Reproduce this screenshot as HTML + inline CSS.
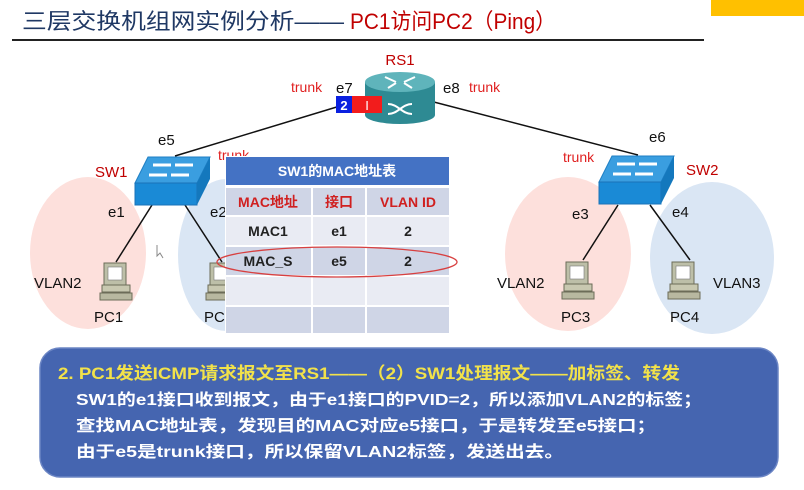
<!DOCTYPE html>
<html><head><meta charset="utf-8"><style>
html,body{margin:0;padding:0;background:#fff;}
svg{display:block;}
text{font-family:"Liberation Sans","Noto Sans CJK SC",sans-serif;}
.cj{font-family:"Liberation Sans","WenQuanYi Zen Hei","Noto Sans CJK SC",sans-serif;}
</style></head><body>
<svg width="804" height="490" viewBox="0 0 804 490" xmlns="http://www.w3.org/2000/svg">
<defs>
<g id="pc">
  <rect x="4" y="0" width="22" height="22" fill="#bdbfa8" stroke="#6c6c58" stroke-width="1"/>
  <rect x="8" y="4" width="14" height="13" fill="#fff" stroke="#777" stroke-width="0.6"/>
  <rect x="2" y="22" width="28" height="7" fill="#c8c8b0" stroke="#6c6c58" stroke-width="1"/>
  <rect x="0" y="30" width="32" height="7" fill="#b8b8a0" stroke="#6c6c58" stroke-width="1"/>
</g>
<g id="sw">
  <polygon points="13,0 75,0 62,26 0,26" fill="#3a9ee0" stroke="#1f7fc4"/>
  <polygon points="0,26 62,26 62,48 0,48" fill="#1a8ad6" stroke="#1a73b8"/>
  <polygon points="62,26 75,0 75,22 62,48" fill="#1478bd"/>
  <g stroke="#fff" stroke-width="3" fill="none">
    <line x1="18" y1="8" x2="36" y2="8"/><line x1="40" y1="8" x2="58" y2="8"/>
    <line x1="14" y1="18" x2="32" y2="18"/><line x1="36" y1="18" x2="54" y2="18"/>
  </g>
</g>
</defs>
<rect x="711" y="0" width="93" height="16" fill="#ffc000"/>
<text x="22" y="29" font-size="22" fill="#1f3864" class="cj" textLength="322" lengthAdjust="spacingAndGlyphs">三层交换机组网实例分析——</text>
<text x="350" y="29" font-size="22" fill="#c00000" class="cj" textLength="206" lengthAdjust="spacingAndGlyphs">PC1访问PC2（Ping）</text>
<line x1="12" y1="40" x2="704" y2="40" stroke="#222" stroke-width="2"/>

<ellipse cx="88" cy="253" rx="58" ry="76" fill="#fde0dc"/>
<ellipse cx="226" cy="255" rx="48" ry="76" fill="#dae6f4"/>
<ellipse cx="568" cy="254" rx="63" ry="77" fill="#fde0dc"/>
<ellipse cx="712" cy="258" rx="62" ry="76" fill="#dae6f4"/>

<g stroke="#111" stroke-width="1.5">
<line x1="340" y1="106" x2="175" y2="156"/>
<line x1="430" y1="101" x2="638" y2="155"/>
<line x1="152" y1="205" x2="116" y2="262"/>
<line x1="185" y1="205" x2="222" y2="262"/>
<line x1="618" y1="205" x2="583" y2="260"/>
<line x1="650" y1="205" x2="690" y2="260"/>
</g>

<path d="M365,82 L365,115 A35,9 0 0 0 435,115 L435,82 Z" fill="#2e8a93"/>
<ellipse cx="400" cy="82" rx="35" ry="10" fill="#5fb4bb"/>
<g stroke="#fff" stroke-width="2" fill="none">
<path d="M385,77 L396,82 M415,77 L404,82 M388,88 L396,83 M412,88 L404,83"/>
<path d="M388,104 C398,104 402,114 412,114 M388,114 C398,114 402,104 412,104"/>
</g>
<rect x="336" y="96" width="16" height="17" fill="#0a20e0"/>
<rect x="352" y="96" width="30" height="17" fill="#f21c1c"/>
<text x="344" y="110" font-size="13" fill="#fff" text-anchor="middle" font-weight="bold">2</text>
<text x="367" y="110" font-size="13" fill="#fff" text-anchor="middle">I</text>
<text x="400" y="65" font-size="15" fill="#c00000" text-anchor="middle">RS1</text>
<text x="291" y="92" font-size="14" fill="#e02020">trunk</text>
<text x="336" y="93" font-size="15" fill="#111">e7</text>
<text x="443" y="93" font-size="15" fill="#111">e8</text>
<text x="469" y="92" font-size="14" fill="#e02020">trunk</text>

<use href="#sw" x="135" y="157"/>
<use href="#sw" x="599" y="156"/>

<text x="158" y="145" font-size="15" fill="#111">e5</text>
<text x="95" y="177" font-size="15" fill="#c00000">SW1</text>
<text x="218" y="160" font-size="14" fill="#e02020">trunk</text>
<text x="108" y="217" font-size="15" fill="#111">e1</text>
<text x="210" y="217" font-size="15" fill="#111">e2</text>
<use href="#pc" x="100" y="263"/>
<use href="#pc" x="206" y="263"/>
<text x="34" y="288" font-size="15" fill="#111">VLAN2</text>
<text x="94" y="322" font-size="15" fill="#111">PC1</text>
<text x="204" y="322" font-size="15" fill="#111">PC2</text>

<text x="649" y="142" font-size="15" fill="#111">e6</text>
<text x="563" y="162" font-size="14" fill="#e02020">trunk</text>
<text x="686" y="175" font-size="15" fill="#c00000">SW2</text>
<text x="572" y="219" font-size="15" fill="#111">e3</text>
<text x="672" y="217" font-size="15" fill="#111">e4</text>
<use href="#pc" x="562" y="262"/>
<use href="#pc" x="668" y="262"/>
<text x="497" y="288" font-size="15" fill="#111">VLAN2</text>
<text x="713" y="288" font-size="15" fill="#111">VLAN3</text>
<text x="561" y="322" font-size="15" fill="#111">PC3</text>
<text x="670" y="322" font-size="15" fill="#111">PC4</text>

<rect x="225" y="156" width="225" height="178" fill="#fff"/>
<rect x="226" y="157" width="223" height="28" fill="#4472c4"/>
<text x="337" y="176" font-size="14" fill="#fff" text-anchor="middle" class="cj" font-weight="bold">SW1的MAC地址表</text>
<g fill="#cfd5e6">
<rect x="226" y="188" width="85" height="27"/><rect x="313" y="188" width="52" height="27"/><rect x="367" y="188" width="82" height="27"/>
<rect x="226" y="247" width="85" height="28"/><rect x="313" y="247" width="52" height="28"/><rect x="367" y="247" width="82" height="28"/>
<rect x="226" y="307" width="85" height="26"/><rect x="313" y="307" width="52" height="26"/><rect x="367" y="307" width="82" height="26"/>
</g>
<g fill="#e9ebf3">
<rect x="226" y="217" width="85" height="28"/><rect x="313" y="217" width="52" height="28"/><rect x="367" y="217" width="82" height="28"/>
<rect x="226" y="277" width="85" height="28"/><rect x="313" y="277" width="52" height="28"/><rect x="367" y="277" width="82" height="28"/>
</g>
<g font-size="14" text-anchor="middle" class="cj" font-weight="bold">
<text x="268" y="207" fill="#d02020">MAC地址</text><text x="339" y="207" fill="#d02020">接口</text><text x="408" y="207" fill="#d02020">VLAN ID</text>
<text x="268" y="236" fill="#222">MAC1</text><text x="339" y="236" fill="#222">e1</text><text x="408" y="236" fill="#222">2</text>
<text x="268" y="266" fill="#222">MAC_S</text><text x="339" y="266" fill="#222">e5</text><text x="408" y="266" fill="#222">2</text>
</g>
<ellipse cx="337" cy="262" rx="120" ry="15" fill="none" stroke="#d84040" stroke-width="1.3"/>
<path d="M157,245 L157,256 L160,253 L163,258" fill="none" stroke="#888" stroke-width="1"/>

<rect x="40" y="348" width="738" height="129" rx="20" fill="#4565b0" stroke="#6b85c4" stroke-width="1.5"/>
<text x="58" y="379" font-size="17" fill="#f2e24a" class="cj" font-weight="bold" textLength="622" lengthAdjust="spacingAndGlyphs">2.  PC1发送ICMP请求报文至RS1——（2）SW1处理报文——加标签、转发</text>
<g font-size="16" fill="#fff" class="cj" font-weight="bold">
<text x="76" y="405" textLength="626" lengthAdjust="spacingAndGlyphs">SW1的e1接口收到报文，由于e1接口的PVID=2，所以添加VLAN2的标签；</text>
<text x="76" y="431" textLength="580" lengthAdjust="spacingAndGlyphs">查找MAC地址表，发现目的MAC对应e5接口，于是转发至e5接口；</text>
<text x="76" y="457" textLength="488" lengthAdjust="spacingAndGlyphs">由于e5是trunk接口，所以保留VLAN2标签，发送出去。</text>
</g>
</svg>
</body></html>
